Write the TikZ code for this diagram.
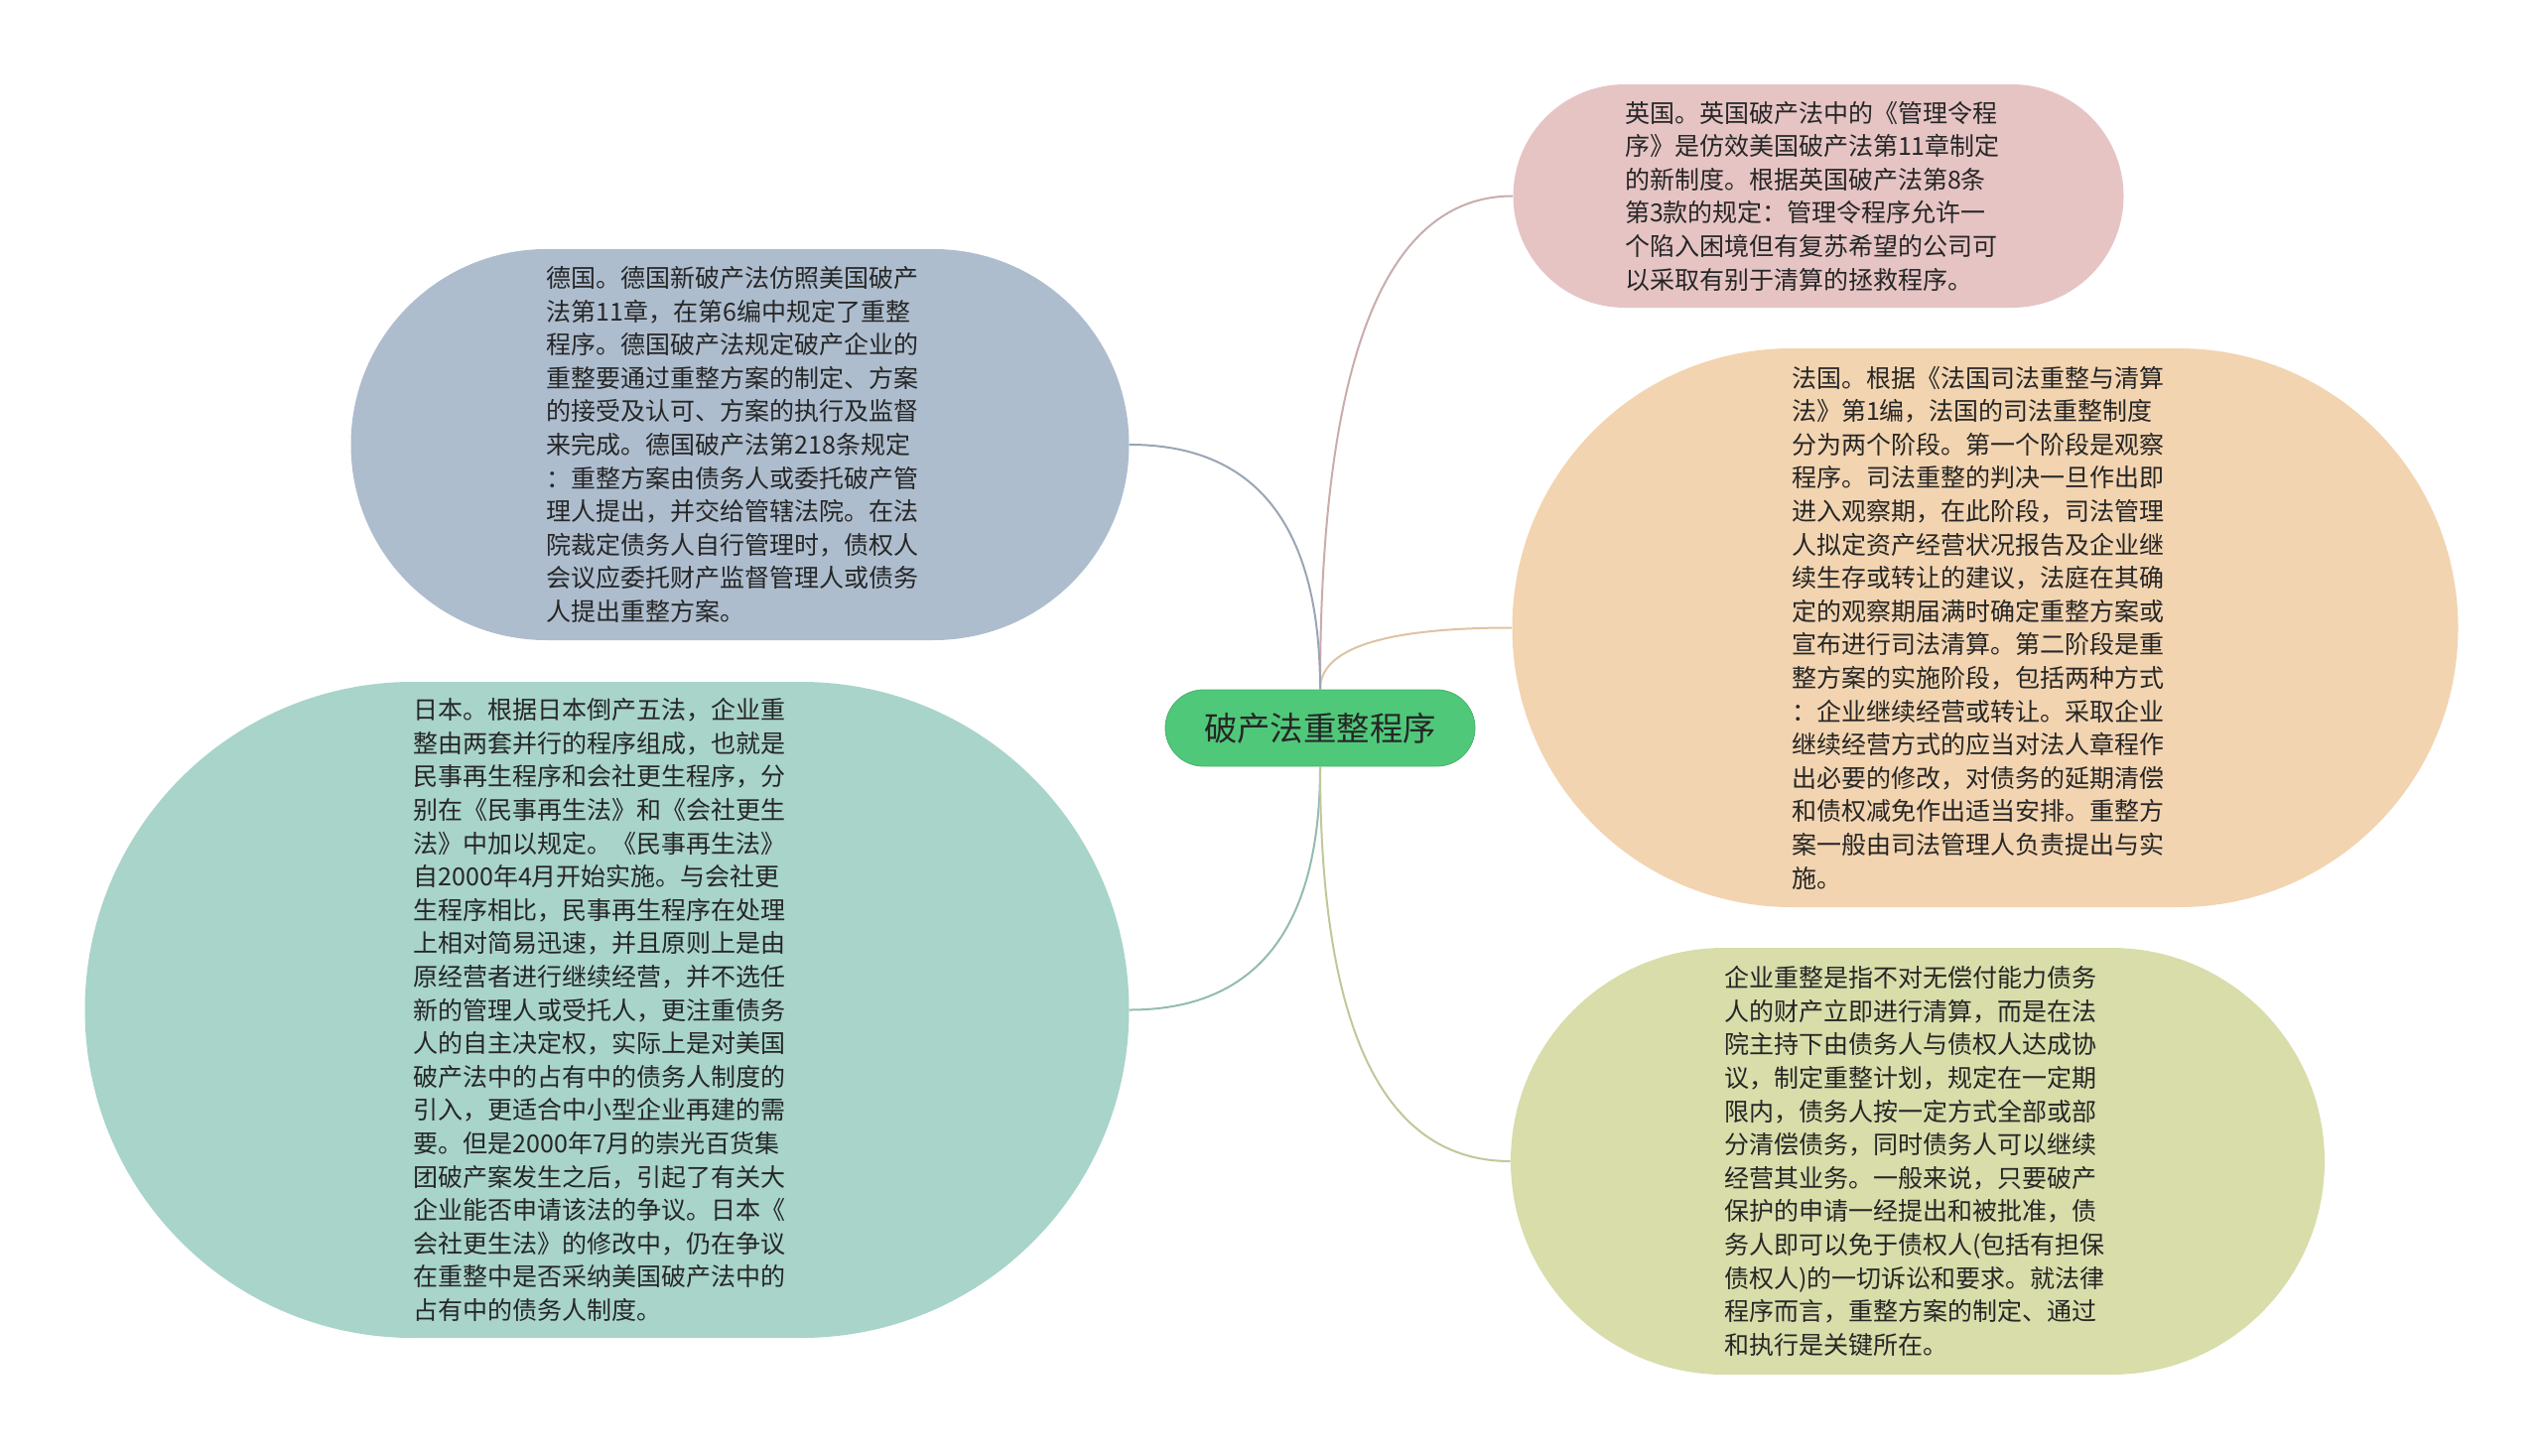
\documentclass[tikz,border=0pt]{standalone}
\usepackage{fontspec}
\newfontfamily\cjkfont{Noto Sans CJK SC}
\usepackage{tikz}
\usetikzlibrary{calc}
\usetikzlibrary{positioning}

\definecolor{rootgreen}{HTML}{50C87A}
\definecolor{ukpink}{HTML}{E6C4C4}
\definecolor{deblue}{HTML}{ADBDCE}
\definecolor{jpteal}{HTML}{A8D4CA}
\definecolor{frsand}{HTML}{F2D4B0}
\definecolor{coolive}{HTML}{D8DDAA}
\definecolor{inkgray}{HTML}{262626}

% curve from the root to one branch: leaves vertically, arrives horizontally
\newcommand\branch[3]{%
  \draw[link, #3] (#1) .. controls ($(#1)!0.667!(#1|-#2)$) and ($(#2)!0.667!(#1|-#2)$) .. (#2);}

\begin{document}
\begin{tikzpicture}
  [
    x=0.5pt, y=-0.5pt,
    rootbox/.style = {rectangle, fill=rootgreen, draw=rootgreen!88!black, line width=0.4pt,
                      minimum width=156pt, minimum height=38.5pt, rounded corners=19.25pt,
                      text=inkgray, font=\cjkfont\fontsize{16.7pt}{20pt}\selectfont},
    bubble/.style n args = {3}{rectangle, fill=#1, inner sep=0pt,
                      minimum width=#2, minimum height=#3, rounded corners=#3/2,
                      text width=195pt, align=left, text=inkgray,
                      font=\cjkfont\fontsize{12.5pt}{16.8pt}\selectfont},
    link/.style = {line width=1pt},
  ]

  \useasboundingbox (0,0) rectangle (2560,1467);

  % the root
  \node (root) at (1330,733.5) [rootbox] {破产法重整程序};

  % right side
  \node (uk) at (1832,197.5) [bubble={ukpink}{307.5pt}{112.5pt}] {英国。英国破产法中的《管理令程\\
序》是仿效美国破产法第11章制定\\
的新制度。根据英国破产法第8条\\
第3款的规定：管理令程序允许一\\
个陷入困境但有复苏希望的公司可\\
以采取有别于清算的拯救程序。};

  \node (fr) at (2000,632.5) [bubble={frsand}{476.5pt}{281.5pt}] {法国。根据《法国司法重整与清算\\
法》第1编，法国的司法重整制度\\
分为两个阶段。第一个阶段是观察\\
程序。司法重整的判决一旦作出即\\
进入观察期，在此阶段，司法管理\\
人拟定资产经营状况报告及企业继\\
续生存或转让的建议，法庭在其确\\
定的观察期届满时确定重整方案或\\
宣布进行司法清算。第二阶段是重\\
整方案的实施阶段，包括两种方式\\
：企业继续经营或转让。采取企业\\
继续经营方式的应当对法人章程作\\
出必要的修改，对债务的延期清偿\\
和债权减免作出适当安排。重整方\\
案一般由司法管理人负责提出与实\\
施。};

  \node (co) at (1932,1170) [bubble={coolive}{410pt}{215pt}] {企业重整是指不对无偿付能力债务\\
人的财产立即进行清算，而是在法\\
院主持下由债务人与债权人达成协\\
议，制定重整计划，规定在一定期\\
限内，债务人按一定方式全部或部\\
分清偿债务，同时债务人可以继续\\
经营其业务。一般来说，只要破产\\
保护的申请一经提出和被批准，债\\
务人即可以免于债权人(包括有担保\\
债权人)的一切诉讼和要求。就法律\\
程序而言，重整方案的制定、通过\\
和执行是关键所在。};

  % left side
  \node (de) at (745.5,448) [bubble={deblue}{392pt}{197pt}] {德国。德国新破产法仿照美国破产\\
法第11章，在第6编中规定了重整\\
程序。德国破产法规定破产企业的\\
重整要通过重整方案的制定、方案\\
的接受及认可、方案的执行及监督\\
来完成。德国破产法第218条规定\\
：重整方案由债务人或委托破产管\\
理人提出，并交给管辖法院。在法\\
院裁定债务人自行管理时，债权人\\
会议应委托财产监督管理人或债务\\
人提出重整方案。};

  \node (jp) at (611.5,1017.5) [bubble={jpteal}{526pt}{330.5pt}] {日本。根据日本倒产五法，企业重\\
整由两套并行的程序组成，也就是\\
民事再生程序和会社更生程序，分\\
别在《民事再生法》和《会社更生\\
法》中加以规定。《民事再生法》\\
自2000年4月开始实施。与会社更\\
生程序相比，民事再生程序在处理\\
上相对简易迅速，并且原则上是由\\
原经营者进行继续经营，并不选任\\
新的管理人或受托人，更注重债务\\
人的自主决定权，实际上是对美国\\
破产法中的占有中的债务人制度的\\
引入，更适合中小型企业再建的需\\
要。但是2000年7月的崇光百货集\\
团破产案发生之后，引起了有关大\\
企业能否申请该法的争议。日本《\\
会社更生法》的修改中，仍在争议\\
在重整中是否采纳美国破产法中的\\
占有中的债务人制度。};

  % connectors
  \branch{root.north}{uk.west}{ukpink!88!black}
  \branch{root.north}{fr.west}{frsand!92!black}
  \branch{root.north}{de.east}{deblue!88!black}
  \branch{root.south}{jp.east}{jpteal!88!black}
  \branch{root.south}{co.west}{coolive!90!black}

\end{tikzpicture}
\end{document}
